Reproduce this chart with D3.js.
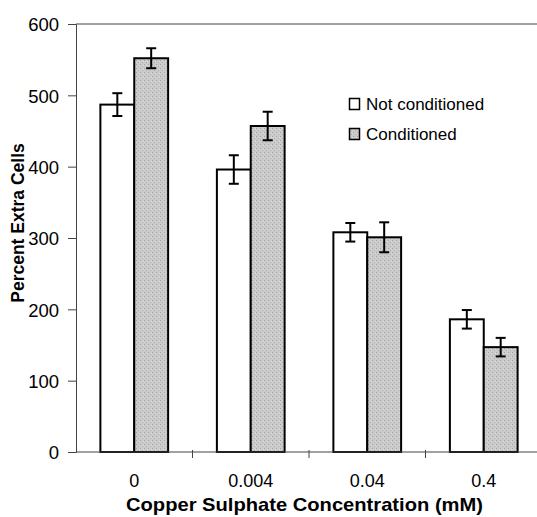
<!DOCTYPE html>
<html>
<head>
<meta charset="utf-8">
<script src="https://cdn.jsdelivr.net/npm/d3@7"></script>
<style>
  html, body { margin: 0; padding: 0; background: #fff; }
  svg { display: block; }
</style>
</head>
<body>
<svg id="chart" width="537" height="517"></svg>
<script>
// Copper sulphate concentrations (mM)
const concentrations = ["0", "0.004", "0.04", "0.4"];
const seriesNames = ["Not conditioned", "Conditioned"];
// Mean percent extra cells
const notConditioned = [487, 396, 308, 186];
const conditioned = [552, 457, 301, 147];
// Error bar half-widths
const notConditionedErr = [16, 20, 13, 13];
const conditionedErr = [14, 20, 21, 13];
const yTicks = [0, 100, 200, 300, 400, 500, 600];

const svg = d3.select("#chart");
const margin = { left: 76, top: 24, right: -5, bottom: 65 };
const W = 537, H = 517;
const plotRight = W - margin.right;
const plotBottom = H - margin.bottom;

const font = "'Liberation Sans', Arial, sans-serif";

const x = d3.scaleBand().domain(concentrations).range([margin.left, plotRight]);
const xs = d3.scaleBand().domain(seriesNames).range([0, x.bandwidth()]).paddingOuter(0.72).paddingInner(0);
const y = d3.scaleLinear().domain([0, 600]).range([plotBottom, margin.top]);

// Stippled grey pattern for the conditioned bars
const defs = svg.append("defs");
const pat = defs.append("pattern").attr("id", "stipple")
  .attr("width", 4).attr("height", 4).attr("patternUnits", "userSpaceOnUse");
pat.append("rect").attr("width", 4).attr("height", 4).attr("fill", "#cbcbcb");
pat.append("rect").attr("x", 0).attr("y", 0).attr("width", 1).attr("height", 1).attr("fill", "#a4a4a4");
pat.append("rect").attr("x", 2).attr("y", 2).attr("width", 1).attr("height", 1).attr("fill", "#adadad");
pat.append("rect").attr("x", 3).attr("y", 1).attr("width", 1).attr("height", 1).attr("fill", "#dddddd");

// Top frame line
svg.append("line")
  .attr("x1", margin.left).attr("x2", W)
  .attr("y1", y(600)).attr("y2", y(600))
  .attr("stroke", "#444").attr("stroke-width", 1);

// Y axis
const yAxis = svg.append("g")
  .attr("transform", `translate(${margin.left},0)`)
  .call(d3.axisLeft(y).tickValues(yTicks).tickSize(8).tickPadding(9).tickFormat(d3.format("d")));
yAxis.select(".domain").attr("stroke", "#444");
yAxis.selectAll(".tick line").attr("stroke", "#444");
yAxis.selectAll(".tick text")
  .attr("font-family", font).attr("font-size", 18.5).attr("fill", "#000").attr("dy", "0.36em");

// Bars
const rows = concentrations.map((c, i) => [
  { c, s: seriesNames[0], v: notConditioned[i], e: notConditionedErr[i] },
  { c, s: seriesNames[1], v: conditioned[i], e: conditionedErr[i] }
]).flat();

svg.append("g").selectAll("rect").data(rows).join("rect")
  .attr("x", d => x(d.c) + xs(d.s))
  .attr("width", xs.bandwidth())
  .attr("y", d => y(d.v))
  .attr("height", d => y(0) - y(d.v))
  .attr("fill", d => d.s === seriesNames[0] ? "#fff" : "url(#stipple)")
  .attr("stroke", "#000").attr("stroke-width", 2);

// Error bars
const eb = svg.append("g").attr("stroke", "#000").attr("stroke-width", 2);
rows.forEach(d => {
  const cx = x(d.c) + xs(d.s) + xs.bandwidth() / 2;
  eb.append("line").attr("x1", cx).attr("x2", cx).attr("y1", y(d.v + d.e)).attr("y2", y(d.v - d.e));
  eb.append("line").attr("x1", cx - 5).attr("x2", cx + 5).attr("y1", y(d.v + d.e)).attr("y2", y(d.v + d.e));
  eb.append("line").attr("x1", cx - 5).attr("x2", cx + 5).attr("y1", y(d.v - d.e)).attr("y2", y(d.v - d.e));
});

// X axis
const xAxisG = svg.append("g").attr("transform", `translate(0,${plotBottom})`);
xAxisG.append("line").attr("x1", margin.left).attr("x2", W).attr("y1", 0).attr("y2", 0)
  .attr("stroke", "#444");
xAxisG.selectAll("line.sep").data(concentrations.slice(1)).join("line").attr("class", "sep")
  .attr("x1", d => x(d)).attr("x2", d => x(d)).attr("y1", -2).attr("y2", 6)
  .attr("stroke", "#444");
xAxisG.selectAll("text").data(concentrations).join("text")
  .attr("x", d => x(d) + x.bandwidth() / 2).attr("y", 35)
  .attr("text-anchor", "middle")
  .attr("font-family", font).attr("font-size", 18).attr("fill", "#000")
  .text(d => d);

// Axis titles
svg.append("text")
  .attr("x", 304.5).attr("y", 511)
  .attr("text-anchor", "middle")
  .attr("font-family", font).attr("font-size", 18.5).attr("font-weight", "bold")
  .attr("textLength", 357).attr("lengthAdjust", "spacingAndGlyphs")
  .text("Copper Sulphate Concentration (mM)");

svg.append("text")
  .attr("transform", "translate(24,223) rotate(-90)")
  .attr("text-anchor", "middle")
  .attr("font-family", font).attr("font-size", 17.5).attr("font-weight", "bold")
  .text("Percent Extra Cells");

// Legend
const legend = svg.append("g").attr("transform", "translate(349,98)");
seriesNames.forEach((s, i) => {
  const g = legend.append("g").attr("transform", `translate(0,${i * 30})`);
  g.append("rect").attr("x", 0.5).attr("y", 0.5).attr("width", 10).attr("height", 11)
    .attr("fill", i === 0 ? "#fff" : "url(#stipple)").attr("stroke", "#000").attr("stroke-width", 1.5);
  g.append("text").attr("x", 17).attr("y", 12)
    .attr("font-family", font).attr("font-size", 17).attr("fill", "#000")
    .text(s);
});
</script>
</body>
</html>
